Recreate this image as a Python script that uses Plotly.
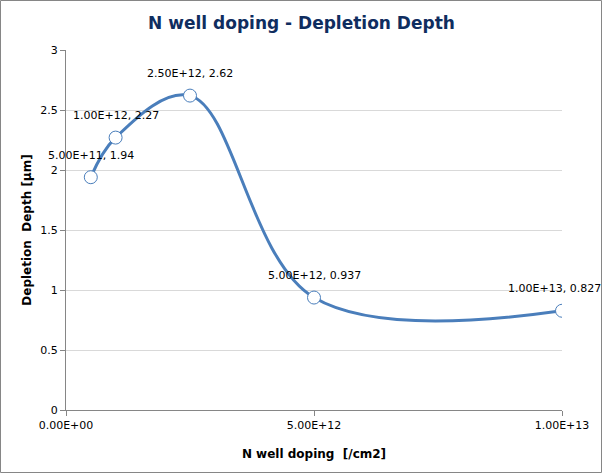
import plotly.graph_objects as go

doping = [5e11, 1e12, 2.5e12, 5e12, 1e13]
depth = [1.94, 2.27, 2.62, 0.937, 0.827]
point_labels = ["5.00E+11, 1.94", "1.00E+12, 2.27", "2.50E+12, 2.62", "5.00E+12, 0.937", "1.00E+13, 0.827"]
label_xshift = [0, 0, 0, 0, -8]
x_tickvals = [0, 5e12, 1e13]
x_ticktext = ["0.00E+00", "5.00E+12", "1.00E+13"]
y_tickvals = [0, 0.5, 1, 1.5, 2, 2.5, 3]
y_ticktext = ["0", "0.5", "1", "1.5", "2", "2.5", "3"]

W, H = 603, 474
ML, MR, MT, MB = 66, 41, 50, 64
PW, PH = W - ML - MR, H - MT - MB

blue = "#4A7EBB"
font = "DejaVu Sans"

fig = go.Figure()
fig.add_trace(go.Scatter(
    x=doping, y=depth, mode="lines+markers",
    line=dict(color=blue, width=3, shape="spline", smoothing=1.05),
    marker=dict(size=13, color="white", line=dict(color=blue, width=1)),
    hoverinfo="skip", showlegend=False,
))

for xv, yv, t, xs in zip(doping, depth, point_labels, label_xshift):
    fig.add_annotation(x=xv, y=yv, text=t, showarrow=False, yshift=22, xshift=xs,
                       font=dict(family=font, size=11, color="black"))

fig.update_layout(
    width=W, height=H,
    margin=dict(l=ML, r=MR, t=MT, b=MB),
    paper_bgcolor="white", plot_bgcolor="white",
    title=dict(text="<b>N well doping - Depletion Depth</b>", x=0.5, xanchor="center",
               y=1 - 23 / H, yanchor="middle",
               font=dict(family=font, size=17, color="#0F2D5F")),
    xaxis=dict(range=[0, 1e13], tickvals=x_tickvals, ticktext=x_ticktext,
               showgrid=False, zeroline=False, showline=True, linecolor="#868686", linewidth=1,
               ticks="outside", ticklen=5, tickcolor="#868686",
               tickfont=dict(family=font, size=11, color="black"),
               title=dict(text="<b>N well doping  [/cm2]</b>", standoff=18,
                          font=dict(family=font, size=12, color="black"))),
    yaxis=dict(range=[0, 3], tickvals=y_tickvals, ticktext=y_ticktext,
               showgrid=True, gridcolor="#D9D9D9", gridwidth=1, zeroline=False,
               showline=True, linecolor="#868686", linewidth=1,
               ticks="outside", ticklen=5, tickcolor="#868686",
               tickfont=dict(family=font, size=11, color="black"),
               title=dict(text="<b>Depletion  Depth [µm]</b>", standoff=6,
                          font=dict(family=font, size=12, color="black"))),
)

fig.add_shape(type="rect", xref="paper", yref="paper",
              x0=-(ML - 0.5) / PW, x1=1 + (MR - 1.5) / PW,
              y0=-(MB - 1.5) / PH, y1=1 + (MT - 0.5) / PH,
              line=dict(color="#868686", width=1), fillcolor="rgba(0,0,0,0)", layer="below")

fig.write_html("out.html")
